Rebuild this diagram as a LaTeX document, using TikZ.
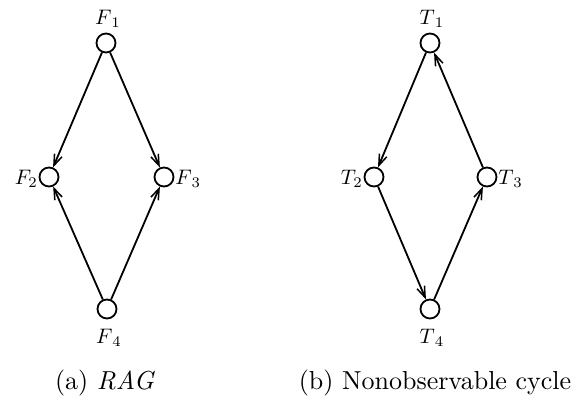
\documentclass[tikz,border=0pt]{standalone}
\usetikzlibrary{arrows.meta}
\begin{document}
\begin{tikzpicture}[x=1pt,y=-1pt,
  vert/.style={circle,draw,line width=1.8pt,minimum size=19pt,inner sep=0pt},
  lab/.style={scale=2.1,transform shape,inner sep=0pt},
  captxt/.style={scale=2.6,transform shape,inner sep=0pt},
  arr/.style={line width=1.8pt,-{Straight Barb[length=11pt,width=8pt,line width=1.5pt]}}]
\useasboundingbox (0,0) rectangle (585,402);
% (a)
\node[vert] (F1) at (106,43) {};
\node[vert] (F2) at (49,177) {};
\node[vert] (F3) at (164,177) {};
\node[vert] (F4) at (107,309) {};
\node[lab,anchor=base] (lF1) at (108,24) {$F_{\,1}$};
\node[lab,anchor=base east] (lF2) at ([xshift=-0.5pt]F2.west |- 0,184) {$F_{2}$};
\node[lab,anchor=base west] (lF3) at ([xshift=0.5pt]F3.east |- 0,184) {$F_{\,3}$};
\node[lab,anchor=base] (lF4) at (109,343) {$F_{\,4}$};
\draw[arr] (F1) -- (F2);
\draw[arr] (F1) -- (F3);
\draw[arr] (F4) -- (F2);
\draw[arr] (F4) -- (F3);
% (b)
\node[vert] (T1) at (430,43) {};
\node[vert] (T2) at (374,177) {};
\node[vert] (T3) at (487,177) {};
\node[vert] (T4) at (430,309) {};
\node[lab,anchor=base] (lT1) at (432,24) {$T_{\,1}$};
\node[lab,anchor=base east] (lT2) at ([xshift=-0.5pt]T2.west |- 0,184) {$T_{2}$};
\node[lab,anchor=base west] (lT3) at ([xshift=0.5pt]T3.east |- 0,184) {$T_{\,3}$};
\node[lab,anchor=base] (lT4) at (432,343) {$T_{\,4}$};
\draw[arr] (T1) -- (T2);
\draw[arr] (T2) -- (T4);
\draw[arr] (T4) -- (T3);
\draw[arr] (T3) -- (T1);
% captions
\node[captxt,anchor=base] (ca) at (105,389) {(a) \textit{RAG}};
\node[captxt,anchor=base] (cb) at (435,389) {(b) Nonobservable cycle};
\end{tikzpicture}
\end{document}
